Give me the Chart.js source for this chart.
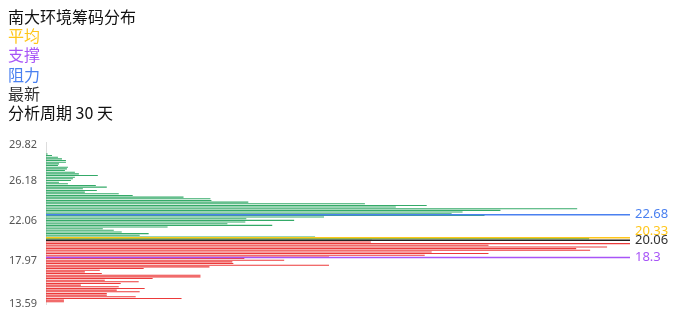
<!DOCTYPE html>
<html lang="zh-CN">
<head>
<meta charset="utf-8">
<title>南大环境筹码分布</title>
<script src="https://cdn.jsdelivr.net/npm/chart.js@4.4.1/dist/chart.umd.min.js"></script>
<style>
    html, body { margin: 0; padding: 0; background: #fff; }
    canvas { display: block; }
</style>
</head>
<body>
<canvas id="chipChart" width="696" height="320"></canvas>
<script>
(function (window, document) {
    'use strict';

    var title = '南大环境筹码分布';
    var periodDays = 30;

    // price levels, top to bottom
    var priceLevels = [
        28.90, 28.73, 28.56, 28.39, 28.22, 28.05, 27.88, 27.71, 27.54, 27.37,
        27.20, 27.03, 26.86, 26.69, 26.52, 26.35, 26.18, 26.01, 25.84, 25.67,
        25.50, 25.33, 25.16, 24.99, 24.82, 24.65, 24.48, 24.31, 24.14, 23.97,
        23.80, 23.63, 23.46, 23.29, 23.12, 22.95, 22.78, 22.61, 22.44, 22.27,
        22.10, 21.93, 21.76, 21.59, 21.42, 21.25, 21.08, 20.91, 20.74, 20.57,
        20.40, 20.23, 20.06, 19.89, 19.72, 19.55, 19.38, 19.21, 19.04, 18.87,
        18.70, 18.53, 18.36, 18.19, 18.02, 17.85, 17.68, 17.51, 17.34, 17.17,
        17.00, 16.83, 16.66, 16.49, 16.32, 16.15, 15.98, 15.81, 15.64, 15.47,
        15.30, 15.13, 14.96, 14.79, 14.62, 14.45, 14.28, 14.11, 13.94, 13.77
    ];
    var chipVolumes = [
        1.7, 6, 12, 16, 20, 20, 13, 12, 22, 21,
        19, 29, 33, 52, 29, 27, 25, 13, 22, 50,
        61, 37, 51, 39, 73, 87, 138, 165, 166, 203,
        320, 382, 351, 533, 456, 418, 407, 440, 279, 201,
        249, 200, 182, 227, 122, 57, 68, 76, 103, 94,
        270, 545, 327, 326, 586, 444, 563, 532, 546, 387,
        444, 380, 284, 199, 239, 187, 188, 284, 164, 98,
        54, 39, 56, 155, 155, 107, 59, 93, 75, 35,
        73, 99, 71, 94, 61, 61, 90, 136, 18, 18
    ];
    var priceTicks = [29.82, 26.18, 22.06, 17.97, 13.59];
    var markNames = ['平均', '支撑', '阻力', '最新'];
    var markValues = [20.33, 18.3, 22.68, 20.06];

    var markColors = ['#ffc61a', '#a855f7', '#4a80f0', '#222222'];
    var markTextColors = ['#ffc61a', '#a855f7', '#4a80f0', '#333333'];
    var latestPrice = markValues[3];

    var $chart = document.getElementById('chipChart');

    var titlePlugin = {
        id: 'chipTitle',
        afterDraw: function (chart) {
            var ctx = chart.ctx;
            var lines = [{ text: title, color: '#111111' }];
            markNames.forEach(function (name, i) {
                lines.push({ text: name, color: markTextColors[i] });
            });
            lines.push({ text: '分析周期 ' + periodDays + ' 天', color: '#111111' });
            ctx.save();
            ctx.font = '16px "Noto Sans CJK SC", sans-serif';
            ctx.textAlign = 'left';
            ctx.textBaseline = 'middle';
            lines.forEach(function (line, i) {
                ctx.fillStyle = line.color;
                ctx.fillText(line.text, 8, 17 + i * 19.2);
            });
            ctx.restore();
        }
    };

    var markLinePlugin = {
        id: 'chipMarkLines',
        afterDatasetsDraw: function (chart) {
            var ctx = chart.ctx;
            var area = chart.chartArea;
            var yScale = chart.scales.y;
            ctx.save();
            ctx.lineWidth = 1.5;
            [2, 0, 3, 1].forEach(function (i) {
                var y = yScale.getPixelForValue(markValues[i]);
                ctx.strokeStyle = markColors[i];
                ctx.beginPath();
                ctx.moveTo(area.left, y);
                ctx.lineTo(area.right, y);
                ctx.stroke();
            });
            // labels: latest first, others move up when they collide
            ctx.font = '13px "Noto Sans", sans-serif';
            ctx.textAlign = 'left';
            ctx.textBaseline = 'middle';
            var placed = [];
            [3, 2, 0, 1].forEach(function (i) {
                var y = yScale.getPixelForValue(markValues[i]);
                placed.forEach(function (p) {
                    if (Math.abs(y - p) < 9.5) {
                        y = p - 9.5;
                    }
                });
                placed.push(y);
                ctx.fillStyle = markTextColors[i];
                ctx.fillText(String(markValues[i]), area.right + 5, y);
            });
            ctx.restore();
        }
    };

    new Chart($chart, {
        type: 'bar',
        data: {
            datasets: [{
                data: priceLevels.map(function (p, i) {
                    return { x: chipVolumes[i], y: p };
                }),
                backgroundColor: priceLevels.map(function (p) {
                    return p >= latestPrice ? 'rgb(52, 170, 104)' : 'rgb(236, 58, 58)';
                }),
                borderWidth: 0,
                barPercentage: 0.8,
                categoryPercentage: 0.8
            }]
        },
        options: {
            indexAxis: 'y',
            responsive: false,
            animation: false,
            layout: {
                padding: { top: 142, bottom: 15, left: 0, right: 66 }
            },
            plugins: {
                legend: { display: false },
                tooltip: { enabled: false }
            },
            scales: {
                x: {
                    type: 'linear',
                    display: false,
                    min: 0,
                    max: Math.max.apply(null, chipVolumes)
                },
                y: {
                    type: 'linear',
                    min: 13.5,
                    max: 30.12,
                    offset: false,
                    grid: { display: false, drawTicks: false, offset: false },
                    border: { display: true, color: '#dddddd', width: 1 },
                    ticks: {
                        padding: 9,
                        color: '#555555',
                        font: { family: '"Noto Sans", sans-serif', size: 11 },
                        callback: function (value) {
                            return Number(value).toFixed(2);
                        }
                    },
                    afterBuildTicks: function (scale) {
                        scale.ticks = priceTicks.map(function (v) {
                            return { value: v };
                        });
                    },
                    afterFit: function (scale) {
                        scale.width = 46;
                    }
                }
            }
        },
        plugins: [titlePlugin, markLinePlugin]
    });
})(window, document);
</script>
</body>
</html>
